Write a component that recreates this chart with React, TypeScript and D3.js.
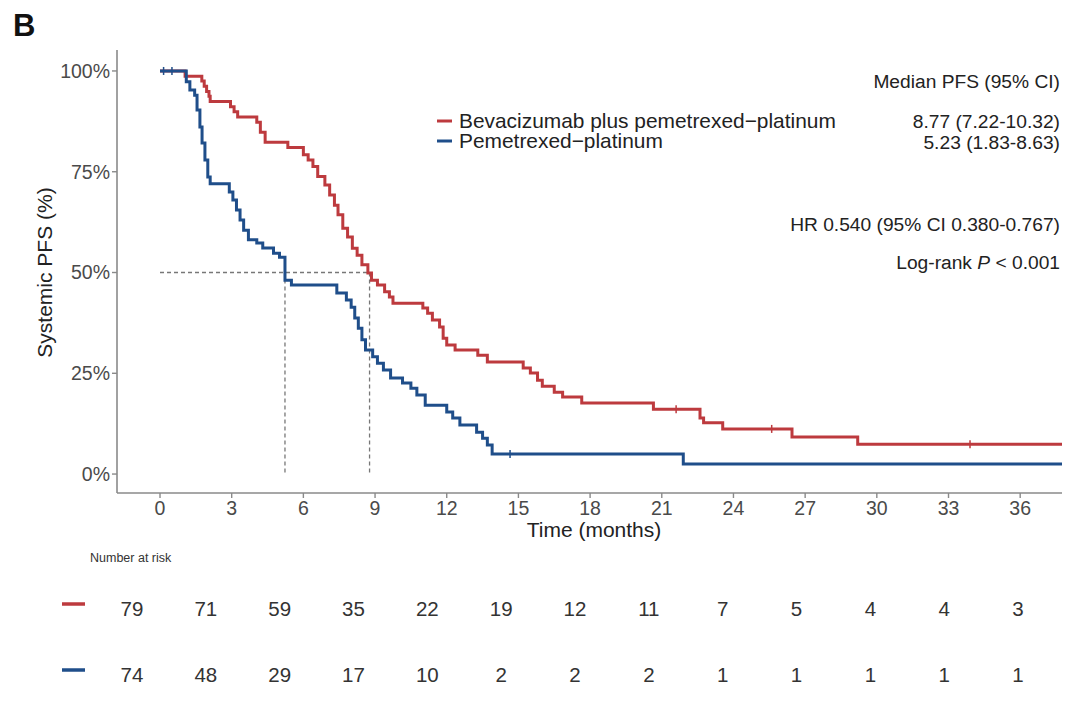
import React from "react";
import * as d3 from "d3";

const W = 1080;
const H = 702;

// Kaplan-Meier step points: time (months), survival (%)
const redTimes = [0, 1.05, 1.75, 1.85, 1.95, 2.05, 2.1, 2.95, 3.1, 3.25, 4.05, 4.2, 4.4, 5.35, 6.0, 6.2, 6.4, 6.6, 6.9, 7.1, 7.3, 7.45, 7.65, 7.85, 8.05, 8.25, 8.45, 8.7, 8.85, 9.1, 9.4, 9.6, 9.75, 11.0, 11.2, 11.4, 11.7, 11.85, 12.0, 12.35, 13.3, 13.7, 15.2, 15.5, 15.8, 16.0, 16.5, 16.85, 17.65, 20.65, 22.6, 22.75, 23.55, 26.45, 29.2, 37.75];
const redSurv = [100, 98.7, 97.5, 96.2, 94.9, 93.7, 92.4, 91.1, 89.9, 88.6, 87.3, 84.8, 82.3, 81.0, 79.2, 77.9, 76.3, 73.8, 71.7, 69.2, 66.7, 64.3, 61.0, 58.8, 56.0, 54.3, 51.9, 49.9, 48.1, 46.9, 45.2, 43.9, 42.4, 41.2, 39.9, 38.2, 36.5, 33.7, 32.0, 30.8, 29.5, 27.8, 26.3, 25.1, 23.3, 21.8, 20.3, 19.1, 17.6, 16.1, 13.9, 12.7, 11.2, 9.2, 7.4, 7.4];

const blueTimes = [0, 1.1, 1.25, 1.45, 1.55, 1.67, 1.76, 1.88, 2.0, 2.1, 2.9, 3.05, 3.2, 3.35, 3.5, 3.7, 4.05, 4.3, 4.75, 5.0, 5.23, 5.5, 7.4, 7.8, 8.0, 8.15, 8.3, 8.45, 8.6, 8.9, 9.1, 9.35, 9.65, 10.15, 10.5, 10.75, 11.1, 12.0, 12.25, 12.55, 13.25, 13.5, 13.7, 13.9, 21.9, 37.75];
const blueSurv = [100, 97.3, 95.3, 94.0, 90.3, 86.1, 82.1, 77.9, 73.7, 72.0, 70.0, 68.0, 65.5, 63.0, 60.5, 58.1, 57.3, 56.1, 54.8, 53.8, 48.1, 46.9, 44.9, 43.2, 41.4, 38.7, 36.2, 33.3, 30.8, 29.1, 27.5, 25.8, 23.8, 22.6, 21.3, 19.6, 17.1, 15.4, 13.9, 12.2, 10.4, 8.9, 7.2, 5.0, 2.5, 2.5];

const redCensor = [21.6, 25.6, 33.9];
const blueCensor = [0.15, 0.5, 14.65];

const xTicks = [0, 3, 6, 9, 12, 15, 18, 21, 24, 27, 30, 33, 36];
const yTicks = [0, 25, 50, 75, 100];
const medians = [5.23, 8.77];

const groups = ["Bevacizumab plus pemetrexed\u2212platinum", "Pemetrexed\u2212platinum"];
const medianLabels = ["8.77 (7.22-10.32)", "5.23 (1.83-8.63)"];
const riskRed = [79, 71, 59, 35, 22, 19, 12, 11, 7, 5, 4, 4, 3];
const riskBlue = [74, 48, 29, 17, 10, 2, 2, 2, 1, 1, 1, 1, 1];

const RED = "#BD3A3E";
const BLUE = "#1F4E8A";
const FONT = "'Liberation Sans', Arial, Helvetica, sans-serif";

export default function App() {
  const x = d3.scaleLinear().domain([-1.8, 37.75]).range([117, 1062]);
  const y = d3.scaleLinear().domain([-4.7, 105.2]).range([493, 50]);
  const xr = d3.scaleLinear().domain([0, 36]).range([132, 1018]);

  const line = d3
    .line<[number, number]>()
    .x((d) => x(d[0]))
    .y((d) => y(d[1]))
    .curve(d3.curveStepAfter);

  const redPts = redTimes.map((t, i) => [t, redSurv[i]] as [number, number]);
  const bluePts = blueTimes.map((t, i) => [t, blueSurv[i]] as [number, number]);

  const survAt = (times: number[], surv: number[], t: number) => {
    let v = surv[0];
    for (let i = 0; i < times.length; i++) if (times[i] <= t) v = surv[i];
    return v;
  };

  return (
    <svg width={W} height={H} style={{ position: "absolute", left: 0, top: 0, background: "#fff" }} fontFamily={FONT}>
      <rect width={W} height={H} fill="#fff" />
      <text x={13} y={36} fontSize={31} fontWeight="bold" fill="#111">B</text>

      {/* median reference lines */}
      <line x1={x(0)} x2={x(medians[1])} y1={y(50)} y2={y(50)} stroke="#777" strokeWidth={1.3} strokeDasharray="4,3" />
      {medians.map((m) => (
        <line key={m} x1={x(m)} x2={x(m)} y1={y(50)} y2={y(0)} stroke="#777" strokeWidth={1.3} strokeDasharray="4,3" />
      ))}

      {/* curves */}
      <path d={line(redPts) || ""} fill="none" stroke={RED} strokeWidth={3} />
      <path d={line(bluePts) || ""} fill="none" stroke={BLUE} strokeWidth={3} />
      {redCensor.map((t) => (
        <line key={"rc" + t} x1={x(t)} x2={x(t)} y1={y(survAt(redTimes, redSurv, t)) - 4} y2={y(survAt(redTimes, redSurv, t)) + 4} stroke={RED} strokeWidth={1.5} />
      ))}
      {blueCensor.map((t) => (
        <line key={"bc" + t} x1={x(t)} x2={x(t)} y1={y(survAt(blueTimes, blueSurv, t)) - 4} y2={y(survAt(blueTimes, blueSurv, t)) + 4} stroke={BLUE} strokeWidth={1.5} />
      ))}

      {/* axes */}
      <line x1={x.range()[0]} x2={x.range()[0]} y1={50} y2={493} stroke="#8a8a8a" strokeWidth={1.6} />
      <line x1={x.range()[0]} x2={x.range()[1]} y1={493} y2={493} stroke="#8a8a8a" strokeWidth={1.6} />
      {yTicks.map((v) => (
        <g key={"y" + v}>
          <line x1={112} x2={117} y1={y(v)} y2={y(v)} stroke="#8a8a8a" strokeWidth={1.4} />
          <text x={110} y={y(v)} dy="0.35em" textAnchor="end" fontSize={19.5} fill="#4a4a4a">{v + "%"}</text>
        </g>
      ))}
      {xTicks.map((v) => (
        <g key={"x" + v}>
          <line x1={x(v)} x2={x(v)} y1={493} y2={498} stroke="#8a8a8a" strokeWidth={1.4} />
          <text x={x(v)} y={515} textAnchor="middle" fontSize={19.5} fill="#4a4a4a">{v}</text>
        </g>
      ))}
      <text x={594} y={537} textAnchor="middle" fontSize={21} fill="#222">Time (months)</text>
      <text transform={`translate(52,${y(50)}) rotate(-90)`} textAnchor="middle" fontSize={21} fill="#222">Systemic PFS (%)</text>

      {/* legend */}
      {groups.map((g, i) => (
        <g key={g}>
          <line x1={437} x2={452} y1={121 + i * 20} y2={121 + i * 20} stroke={i === 0 ? RED : BLUE} strokeWidth={3} />
          <text x={459} y={121 + i * 20} dy="0.35em" fontSize={20.9} fill="#222">{g}</text>
          <text x={1060} y={121 + i * 21} dy="0.35em" textAnchor="end" fontSize={19.2} fill="#222">{medianLabels[i]}</text>
        </g>
      ))}
      <text x={1060} y={81} dy="0.35em" textAnchor="end" fontSize={19.2} fill="#222">Median PFS (95% CI)</text>
      <text x={1060} y={224} dy="0.35em" textAnchor="end" fontSize={19.2} fill="#222">HR 0.540 (95% CI 0.380-0.767)</text>
      <text x={1060} y={262} dy="0.35em" textAnchor="end" fontSize={19.2} fill="#222">
        Log-rank <tspan fontStyle="italic">P</tspan> &lt; 0.001
      </text>

      {/* risk table */}
      <text x={90} y={562} fontSize={12.5} fill="#333">Number at risk</text>
      <line x1={62} x2={85} y1={604} y2={604} stroke={RED} strokeWidth={3.5} />
      <line x1={62} x2={85} y1={670} y2={670} stroke={BLUE} strokeWidth={3.5} />
      {riskRed.map((n, i) => (
        <text key={"rr" + i} x={xr(xTicks[i])} y={609} dy="0.35em" textAnchor="middle" fontSize={20.5} fill="#333">{n}</text>
      ))}
      {riskBlue.map((n, i) => (
        <text key={"rb" + i} x={xr(xTicks[i])} y={675} dy="0.35em" textAnchor="middle" fontSize={20.5} fill="#333">{n}</text>
      ))}
    </svg>
  );
}
